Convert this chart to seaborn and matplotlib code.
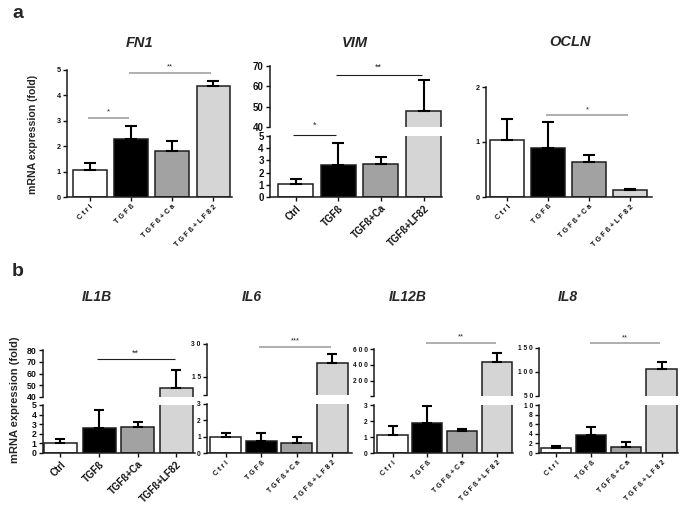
import numpy as np
import pandas as pd

import matplotlib
matplotlib.use('AGG')
import matplotlib.pyplot as plt
import seaborn as sns

sns.set_theme(style="white", rc={
    "axes.edgecolor": "#1a1a1a",
    "axes.linewidth": 1.1,
    "axes.facecolor": "none",
    "axes.spines.right": False,
    "axes.spines.top": False,
    "xtick.bottom": True,
    "ytick.left": True,
    "xtick.direction": "out",
    "ytick.direction": "out",
    "xtick.major.size": 3,
    "ytick.major.size": 3,
    "xtick.major.width": 1.0,
    "ytick.major.width": 1.0,
    "xtick.major.pad": 1.5,
    "ytick.major.pad": 1.5,
    "xtick.color": "#111111",
    "ytick.color": "#111111",
})
plt.rcParams['font.family'] = ['Liberation Sans', 'DejaVu Sans']

# ---------------- data ----------------
groups = ['Ctrl', 'TGFß', 'TGFß+Ca', 'TGFß+LF82']
bar_colors = ['white', 'black', '#a2a2a2', '#d5d5d5']

fn1_mean = [1.05, 2.3, 1.8, 4.38]
fn1_err = [0.3, 0.5, 0.42, 0.17]
fn1_sig = [(0, 1, 3.12, '*'), (1, 3, 4.88, '**')]

vim_mean = [1.05, 2.6, 2.68, 48]
vim_err = [0.4, 1.85, 0.57, 15]
vim_sig = [(0, 1, 5.05, '*'), (1, 3, 65.6, '**')]

ocln_mean = [1.04, 0.9, 0.63, 0.12]
ocln_err = [0.38, 0.46, 0.13, 0.02]
ocln_sig = [(1, 3, 1.49, '*')]

il1b_mean = [1.05, 2.6, 2.68, 48]
il1b_err = [0.4, 1.85, 0.57, 15]
il1b_sig = [(1, 3, 72.5, '**')]

il6_mean = [1.0, 0.73, 0.6, 21.4]
il6_err = [0.2, 0.47, 0.36, 4.0]
il6_sig = [(1, 3, 28.6, '***')]

il12b_mean = [1.15, 1.85, 1.38, 440]
il12b_err = [0.55, 1.1, 0.11, 110]
il12b_sig = [(1, 3, 675, '**')]

il8_mean = [1.07, 3.85, 1.33, 106]
il8_err = [0.4, 1.55, 0.9, 15]
il8_sig = [(1, 3, 160, '**')]

W, H = 685, 512
fig = plt.figure(figsize=(W / 100, H / 100), dpi=100)


def px_axes(x0, x1, y0, y1):
    # pixel box (top-left origin) -> figure axes
    return fig.add_axes([x0 / W, 1 - y1 / H, (x1 - x0) / W, (y1 - y0) / H])


def spaced(s):
    return ' '.join(s)


def draw_bars(ax, mean, err, width, cap, ymin=None):
    sns.barplot(x=groups, y=mean, hue=groups, palette=bar_colors, legend=False,
                width=width, saturation=1, edgecolor='#1e1e1e', linewidth=1.1, ax=ax)
    idx = [i for i, m in enumerate(mean) if ymin is None or m > ymin]
    ax.errorbar(idx, [mean[i] for i in idx], yerr=[np.zeros(len(idx)), [err[i] for i in idx]],
                fmt='none', ecolor='black', elinewidth=1.5, capsize=cap, capthick=1.5, zorder=3)
    ax.set_xlabel('')
    ax.set_ylabel('')


def sig(ax, items, color, lw, fs, off):
    for a, b, y, s in items:
        ax.plot([a - 0.05, b - 0.05], [y, y], color=color, lw=lw, clip_on=False,
                solid_capstyle='butt')
        ax.text((a + b) / 2 - 0.05, y + off, s, ha='center', va='center',
                fontsize=fs, clip_on=False)


def style_x(ax, xlim, big, fs):
    ax.set_xlim(*xlim)
    ax.set_xticks(range(len(groups)))
    labels = groups if big else [spaced(g) for g in groups]
    ax.set_xticklabels(labels, rotation=45, ha='right', rotation_mode='anchor',
                       fontsize=fs, fontweight='bold', color='#111111')


def style_y(ax, ticks, lim, big, fs, blank_first=False):
    ax.set_ylim(*lim)
    ax.set_yticks(ticks)
    labs = [str(int(t)) if big else spaced(str(int(t))) for t in ticks]
    if blank_first:
        labs[0] = ''
    ax.set_yticklabels(labs, fontsize=fs, fontweight='bold', color='#111111')


def simple_panel(box, mean, err, sigs, ylim, yticks, xlim, width, cap, sigcol):
    ax = px_axes(*box)
    draw_bars(ax, mean, err, width, cap)
    style_x(ax, xlim, False, 5.2)
    style_y(ax, yticks, ylim, False, 5.2)
    sig(ax, sigs, sigcol, 1.3, 5.5, (ylim[1] - ylim[0]) * 0.05)
    return ax


def broken_panel(xr, low_y, up_y, mean, err, sigs, low_lim, low_ticks, up_lim, up_ticks,
                 xlim, width, cap, big, fs, sigcol, siglw, blank_first=False):
    lo = px_axes(xr[0], xr[1], low_y[0], low_y[1])
    up = px_axes(xr[0], xr[1], up_y[0], up_y[1])
    draw_bars(lo, mean, err, width, cap)
    draw_bars(up, mean, err, width, cap, ymin=up_lim[0])
    style_x(lo, xlim, big, 7 if big else 5)
    style_y(lo, low_ticks, low_lim, big, fs)
    up.set_xlim(*xlim)
    up.spines['bottom'].set_visible(False)
    up.set_xticks([])
    style_y(up, up_ticks, up_lim, big, fs, blank_first=blank_first)
    low_sig = [s for s in sigs if s[2] <= low_lim[1] * 1.2]
    up_sig = [s for s in sigs if s[2] > low_lim[1] * 1.2]
    starfs = 6.5 if big else 5.5
    sig(lo, low_sig, sigcol, siglw, starfs, (low_lim[1] - low_lim[0]) * 0.17)
    sig(up, up_sig, sigcol, siglw, starfs, (up_lim[1] - up_lim[0]) * 0.12)
    return lo, up


line_gray = '#a8a8a8'

# ---------------- panel a ----------------
simple_panel((67, 232, 70, 197), fn1_mean, fn1_err, fn1_sig, (0, 5), [0, 1, 2, 3, 4, 5],
             (-0.55, 3.45), 0.82, 4.2, line_gray)

broken_panel((270, 442), (136, 197), (66, 127), vim_mean, vim_err, vim_sig,
             (0, 5), [0, 1, 2, 3, 4, 5], (40, 70), [40, 50, 60, 70],
             (-0.6, 3.43), 0.82, 4.2, True, 7, '#1e1e1e', 0.8)

simple_panel((486, 652, 87, 197), ocln_mean, ocln_err, ocln_sig, (0, 2), [0, 1, 2],
             (-0.52, 3.53), 0.83, 4.2, line_gray)

# ---------------- panel b ----------------
broken_panel((43, 195), (405, 453), (350, 397), il1b_mean, il1b_err, il1b_sig,
             (0, 5), [0, 1, 2, 3, 4, 5], (40, 80), [40, 50, 60, 70, 80],
             (-0.45, 3.48), 0.85, 3.6, True, 6.3, '#1e1e1e', 0.8)

broken_panel((207, 352), (404, 453), (344, 395), il6_mean, il6_err, il6_sig,
             (0, 3), [0, 1, 2, 3], (6.8, 30), [6.8, 15, 30],
             (-0.52, 3.55), 0.87, 3.4, False, 4.8, line_gray, 1.3, blank_first=True)

broken_panel((374, 513), (405, 453), (349, 396), il12b_mean, il12b_err, il12b_sig,
             (0, 3), [0, 1, 2, 3], (12, 600), [12, 200, 400, 600],
             (-0.53, 3.45), 0.86, 3.4, False, 4.8, line_gray, 1.3, blank_first=True)

broken_panel((539, 678), (405, 453), (348, 396), il8_mean, il8_err, il8_sig,
             (0, 10), [0, 2, 4, 6, 8, 10], (50, 150), [50, 100, 150],
             (-0.49, 3.47), 0.86, 3.4, False, 4.8, line_gray, 1.3)

# ---------------- text ----------------
fig.text(18 / W, 1 - 14 / H, 'a', fontsize=14, fontweight='bold', ha='center', va='center')
fig.text(18 / W, 1 - 271 / H, 'b', fontsize=14, fontweight='bold', ha='center', va='center')

for name, x, y in [('FN1', 140, 43), ('VIM', 355, 43), ('OCLN', 570, 42)]:
    fig.text(x / W, 1 - y / H, name, fontsize=10.5, fontweight='bold', style='italic',
             ha='center', va='center')
for name, x in [('IL1B', 97), ('IL6', 252), ('IL12B', 408), ('IL8', 568)]:
    fig.text(x / W, 1 - 297 / H, name, fontsize=10, fontweight='bold', style='italic',
             ha='center', va='center')

fig.text(33 / W, 1 - 134 / H, 'mRNA expression (fold)', rotation=90, fontsize=7.6,
         fontweight='bold', ha='center', va='center')
fig.text(15 / W, 1 - 400 / H, 'mRNA expression (fold)', rotation=90, fontsize=8,
         fontweight='bold', ha='center', va='center')

fig.savefig('out.png', dpi=100)
